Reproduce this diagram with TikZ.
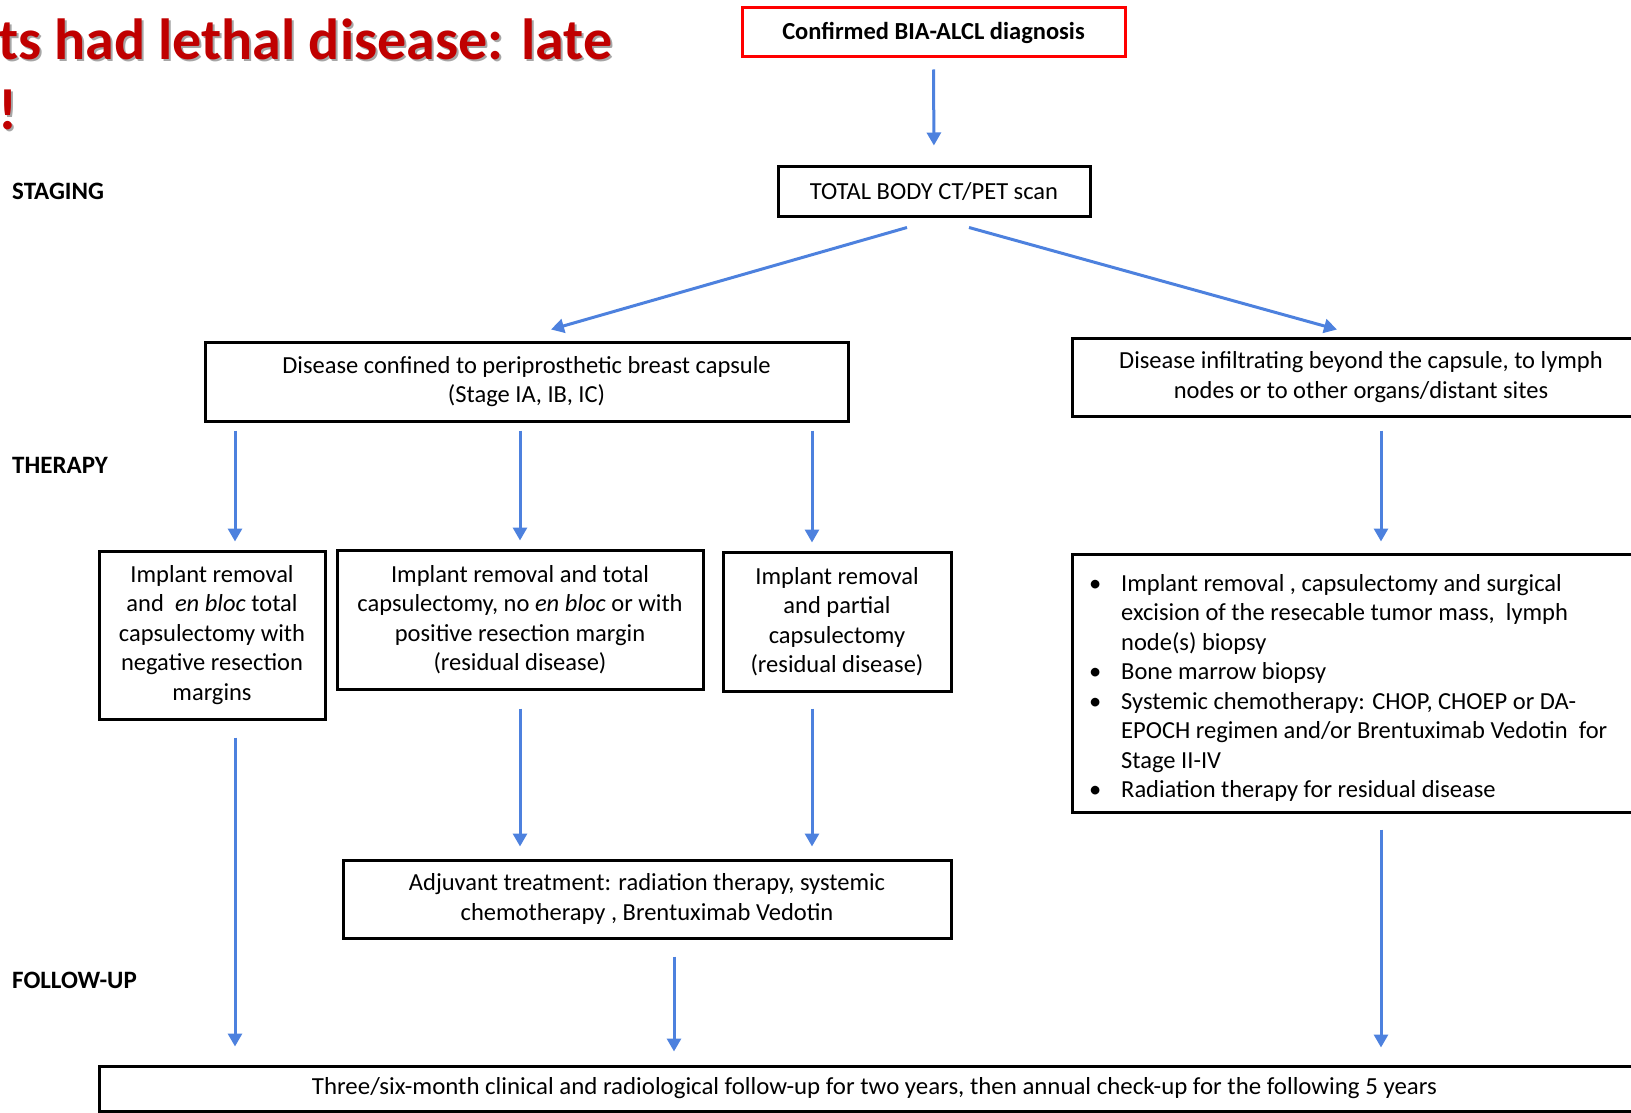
\documentclass[tikz,border=0pt]{standalone}
\usepackage{fontspec}
\usepackage{graphicx}
\setmainfont{Carlito}
\usetikzlibrary{arrows.meta,calc}
\definecolor{arrblue}{RGB}{77,129,222}
\definecolor{titlered}{RGB}{192,0,0}
\definecolor{boxred}{RGB}{255,0,0}
\begin{document}
\begin{tikzpicture}[x=1pt,y=-1pt,
  box/.style={draw=black,line width=3pt,inner sep=0pt,align=center,font=\fontsize{24.5}{29.5}\selectfont},
  arr/.style={draw=arrblue,line width=3pt,-{Triangle[width=14pt,length=13pt]}},
  lbl/.style={font=\fontsize{25}{30}\selectfont\bfseries,anchor=base west,inner sep=0pt},
  ttl/.style={font=\fontsize{58}{70}\selectfont\bfseries,anchor=base west,inner sep=0pt}]
\useasboundingbox (0,0) rectangle (1631,1113);
% title
\node[ttl,text=black!35] (tshadow) at (0,62) {ts had lethal disease: late};
\node[ttl,text=titlered] (title) at (-2,60) {ts had lethal disease: late};
\node[ttl,text=black!35] (exshadow) at (0,132) {!};
\node[ttl,text=titlered] (excl) at (-2,130) {!};
% labels
\node[lbl] (staging) at (12,199) {STAGING};
\node[lbl] (therapy) at (12,473) {THERAPY};
\node[lbl] (followup) at (12,988) {FOLLOW-UP};
% boxes
\node[box,draw=boxred,minimum width=383,minimum height=49,font=\fontsize{24.5}{29.5}\selectfont\bfseries] (red) at (933.5,32.5) {Confirmed BIA-ALCL diagnosis};
\node[box,minimum width=312,minimum height=49] (ct) at (934,191.5) {TOTAL BODY CT/PET scan};
\node[box,minimum width=643,minimum height=79] (conf) at (526.5,381.5) {Disease confined to periprosthetic breast capsule\\(Stage IA, IB, IC)};
\node[box,minimum width=578,minimum height=78] (infl) at (1361,377) {Disease infiltrating beyond the capsule, to lymph\\nodes or to other organs/distant sites};
\node[box,minimum width=226,minimum height=168] (A) at (212,635) {Implant removal\\and \ \textit{en bloc} total\\capsulectomy with\\negative resection\\margins};
\node[box,minimum width=366,minimum height=139] (B) at (520,619.5) {Implant removal and total\\capsulectomy, no \textit{en bloc} or with\\positive resection margin\\(residual disease)};
\node[box,minimum width=228,minimum height=139] (C) at (837,621.5) {Implant removal\\and partial\\capsulectomy\\(residual disease)};
\node[box,minimum width=588,minimum height=258] (D) at (1366,683) {};
\node[anchor=base west,inner sep=0pt,font=\fontsize{24.5}{29.5}\selectfont] (Dtext) at (1089,591) {%
\begin{tabular}[t]{@{}p{32pt}@{}l@{}}
\textbullet & Implant removal , capsulectomy and surgical\\
 & excision of the resecable tumor mass, \ lymph\\
 & node(s) biopsy\\
\textbullet & Bone marrow biopsy\\
\textbullet & Systemic chemotherapy: CHOP, CHOEP or DA-\\
 & EPOCH regimen and/or Brentuximab Vedotin \ for\\
 & Stage II-IV\\
\textbullet & Radiation therapy for residual disease
\end{tabular}};
\node[box,minimum width=608,minimum height=78] (adj) at (647,899) {Adjuvant treatment: radiation therapy, systemic\\chemotherapy , Brentuximab Vedotin};
\node[box,minimum width=1551,minimum height=45] (fu) at (874.5,1088.5) {\scalebox{1.015}[1.0]{Three/six-month clinical and radiological follow-up for two years, then annual check-up for the following 5 years}};
% arrow columns
\coordinate (c1) at (235,0);
\coordinate (c2) at (520,0);
\coordinate (c3) at (812,0);
\coordinate (c4) at (1381,0);
\coordinate (c5) at (674,0);
% arrows
\draw[arr,shorten <=11pt,shorten >=20pt] (red.south) -- (ct.north);
\draw[arr] ($(ct.south)+(-27,10)$) -- ($(conf.north)+(24.5,-11)$);
\draw[arr] ($(ct.south)+(35,10)$) -- ($(infl.north)+(-24,-7)$);
\draw[arr,shorten <=8pt,shorten >=8pt] (conf.south -| c1) -- (A.north -| c1);
\draw[arr,shorten <=8pt,shorten >=8pt] (conf.south -| c2) -- (B.north -| c2);
\draw[arr,shorten <=8pt,shorten >=8pt] (conf.south -| c3) -- (C.north -| c3);
\draw[arr,shorten <=13pt,shorten >=11pt] (infl.south -| c4) -- (D.north -| c4);
\draw[arr,shorten <=18pt,shorten >=12pt] (B.south -| c2) -- (adj.north -| c2);
\draw[arr,shorten <=16pt,shorten >=12pt] (C.south -| c3) -- (adj.north -| c3);
\draw[arr,shorten <=17pt,shorten >=18pt] (A.south -| c1) -- (fu.north -| c1);
\draw[arr,shorten <=17pt,shorten >=13pt] (adj.south -| c5) -- (fu.north -| c5);
\draw[arr,shorten <=16pt,shorten >=17pt] (D.south -| c4) -- (fu.north -| c4);
\end{tikzpicture}
\end{document}
